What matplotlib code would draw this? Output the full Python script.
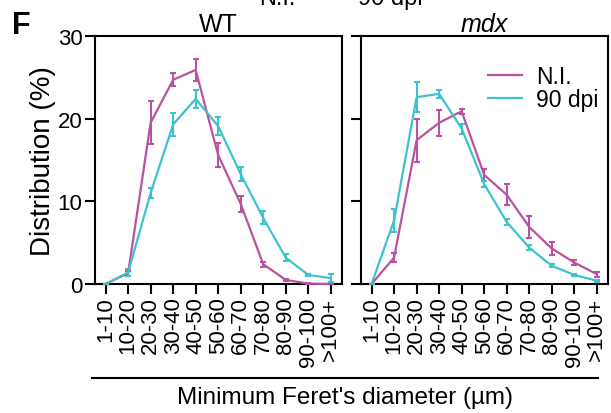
import matplotlib
matplotlib.use("Agg")
import matplotlib.pyplot as plt
from matplotlib.lines import Line2D

plt.rcParams['font.family'] = ['Liberation Sans', 'DejaVu Sans']

categories = ["1-10", "10-20", "20-30", "30-40", "40-50", "50-60",
              "60-70", "70-80", "80-90", "90-100", ">100+"]

# WT
wt_ni = [0, 1.3, 19.5, 24.7, 25.9, 15.6, 9.7, 2.4, 0.5, 0.05, 0.0]
wt_ni_err = [0, 0.3, 2.6, 0.8, 1.3, 1.5, 1.0, 0.3, 0.1, 0.05, 0.05]
wt_90 = [0, 1.4, 11.0, 19.3, 22.4, 19.1, 13.3, 8.0, 3.2, 1.1, 0.7]
wt_90_err = [0, 0.4, 0.6, 1.4, 1.1, 1.1, 0.9, 0.8, 0.4, 0.1, 0.5]

# mdx
mdx_ni = [0, 3.2, 17.4, 19.5, 20.9, 13.2, 10.8, 6.9, 4.3, 2.6, 1.2]
mdx_ni_err = [0, 0.5, 2.6, 1.6, 0.3, 0.7, 1.3, 1.3, 0.8, 0.3, 0.3]
mdx_90 = [0, 7.7, 22.6, 23.0, 18.8, 12.1, 7.5, 4.4, 2.2, 1.1, 0.4]
mdx_90_err = [0, 1.4, 1.8, 0.5, 0.6, 0.4, 0.4, 0.3, 0.2, 0.1, 0.1]

c_ni = "#B9529F"
c_90 = "#3EC2CC"

fig = plt.figure(figsize=(6.11, 4.14), dpi=100)
ax1 = fig.add_axes([95/611, 1-285/414, 247/611, 248/414])
ax2 = fig.add_axes([361/611, 1-285/414, 247/611, 248/414])

x = list(range(len(categories)))

for ax, ni, ni_e, d90, d90_e in [(ax1, wt_ni, wt_ni_err, wt_90, wt_90_err),
                                 (ax2, mdx_ni, mdx_ni_err, mdx_90, mdx_90_err)]:
    ax.errorbar(x, ni, yerr=ni_e, color=c_ni, lw=1.6, capsize=2.5,
                capthick=1.5, elinewidth=1.5, clip_on=False, zorder=3)
    ax.errorbar(x, d90, yerr=d90_e, color=c_90, lw=1.6, capsize=2.5,
                capthick=1.5, elinewidth=1.5, clip_on=False, zorder=3)
    ax.set_xlim(-0.47, 10.5)
    ax.set_ylim(0, 30)
    ax.set_yticks([0, 10, 20, 30])
    ax.set_xticks(x)
    ax.set_xticklabels(categories, rotation=90, fontsize=16)
    ax.tick_params(direction='out', length=7, width=1.5, labelsize=16, pad=2)
    for s in ax.spines.values():
        s.set_linewidth(1.5)

ax2.set_yticklabels([])
ax1.set_ylabel("Distribution (%)", fontsize=20, labelpad=1)
ax1.set_title("WT", fontsize=18, pad=2)
ax2.set_title("mdx", fontsize=18, style='italic', pad=2)

handles = [Line2D([], [], color=c_ni, lw=1.6), Line2D([], [], color=c_90, lw=1.6)]
ax2.legend(handles, ["N.I.", "90 dpi"], loc='upper right', frameon=False,
           fontsize=16.5, handlelength=1.5, handletextpad=0.6,
           bbox_to_anchor=(1.045, 0.965), labelspacing=0.0)

# bracket line under both panels
fig.add_artist(Line2D([92/611, 598/611], [1-379/414, 1-379/414],
                      color='black', lw=1.5))
fig.text(345/611, 1-398/414, "Minimum Feret's diameter (\u00b5m)",
         ha='center', va='center', fontsize=17.5)

fig.text(12/611, 1-26/414, "F", fontsize=22, fontweight='bold', va='center')
# cut-off heading at the top
fig.text(277/611, 1-5/414, "N.I.", fontsize=17, ha='center', va='baseline')
fig.text(390/611, 1-5/414, "90 dpi", fontsize=17, ha='center', va='baseline')

fig.savefig("out.png", dpi=100)
